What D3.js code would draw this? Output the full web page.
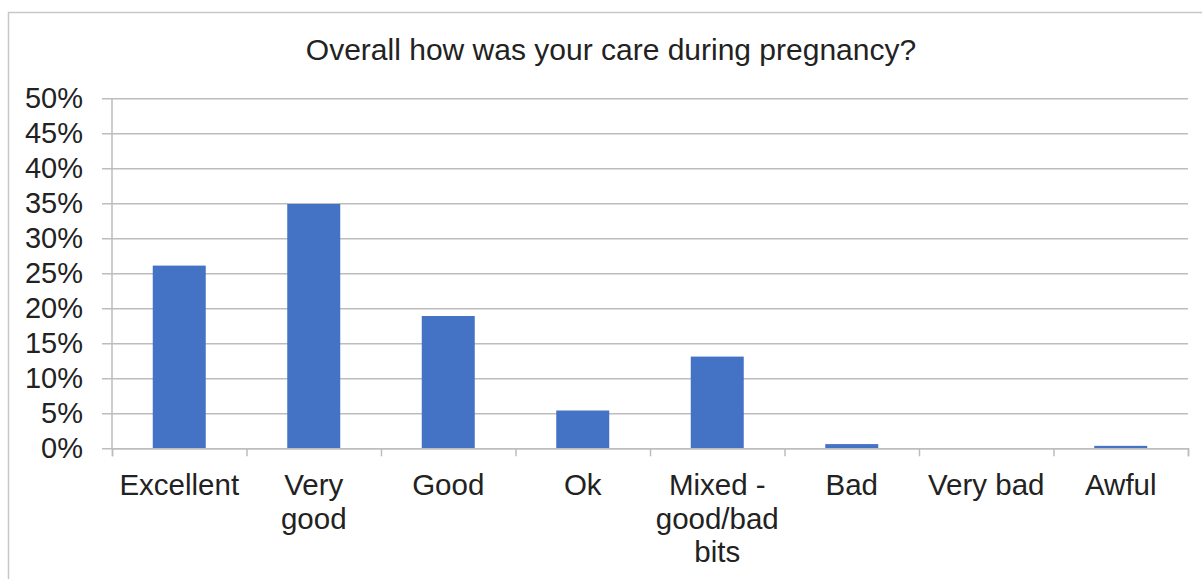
<!DOCTYPE html>
<html>
<head>
<meta charset="utf-8">
<script src="https://cdn.jsdelivr.net/npm/d3@7"></script>
<style>
  body { margin: 0; background: #fff; }
  text { font-family: "Liberation Sans", Arial, sans-serif; fill: #222; }
</style>
</head>
<body>
<div id="chart"></div>
<script>
// chart data
var categories = ["Excellent", "Very good", "Good", "Ok", "Mixed - good/bad bits", "Bad", "Very bad", "Awful"];
var labelLines = [["Excellent"], ["Very", "good"], ["Good"], ["Ok"], ["Mixed -", "good/bad", "bits"], ["Bad"], ["Very bad"], ["Awful"]];
var values = [26.1, 34.9, 18.9, 5.4, 13.1, 0.6, 0, 0.35];
var yTicks = [0, 5, 10, 15, 20, 25, 30, 35, 40, 45, 50];
var title = "Overall how was your care during pregnancy?";

var width = 1202,
    height = 579;
var plotLeft = 112, plotRight = 1188, plotTop = 98.3, plotBottom = 448.3;

var svg = d3.select("#chart")
  .append("svg")
  .attr("width", width)
  .attr("height", height);

// outer frame of the chart area (runs off right and bottom)
svg.append("rect")
  .attr("x", 8.5)
  .attr("y", 12.5)
  .attr("width", 1400)
  .attr("height", 800)
  .attr("fill", "none")
  .attr("stroke", "#c8c8c8")
  .attr("stroke-width", 1.5);

var x = d3.scaleBand()
  .domain(categories)
  .range([plotLeft, plotRight])
  .paddingInner(0.606)
  .paddingOuter(0.303);

var y = d3.scaleLinear()
  .domain([0, 50])
  .range([plotBottom, plotTop]);

// gridlines + y labels, one axis drawn from the right edge
var yAxis = svg.append("g")
  .attr("transform", "translate(" + plotRight + ",0)")
  .call(d3.axisLeft(y)
    .tickValues(yTicks)
    .tickSize(plotRight - 102)
    .tickPadding(19)
    .tickFormat(function(d) { return d + "%"; }));
yAxis.select(".domain").remove();
yAxis.selectAll("line")
  .attr("stroke", "#bdbdbd")
  .attr("stroke-width", 1.5);
yAxis.selectAll("text")
  .style("font-size", "29px")
  .attr("fill", "#222");

// vertical axis line
svg.append("line")
  .attr("x1", plotLeft).attr("x2", plotLeft)
  .attr("y1", plotTop).attr("y2", plotBottom)
  .attr("stroke", "#bdbdbd")
  .attr("stroke-width", 1.5);

// bars
svg.append("g")
  .selectAll("rect")
  .data(values)
  .enter()
  .append("rect")
  .attr("x", function(d, i) { return x(categories[i]); })
  .attr("width", x.bandwidth())
  .attr("y", function(d) { return y(d); })
  .attr("height", function(d) { return y(0) - y(d); })
  .attr("fill", "#4472c4");

// category boundary ticks
var xb = d3.scaleLinear().domain([0, categories.length]).range([plotLeft, plotRight]);
var xAxis = svg.append("g")
  .attr("transform", "translate(0," + plotBottom + ")")
  .call(d3.axisBottom(xb)
    .tickValues(d3.range(categories.length + 1))
    .tickSize(8)
    .tickFormat(""));
xAxis.select(".domain")
  .attr("stroke", "#bdbdbd")
  .attr("stroke-width", 1.5);
xAxis.selectAll("line")
  .attr("stroke", "#bdbdbd")
  .attr("stroke-width", 1.5);

// category labels
var lab = svg.append("g")
  .selectAll("text")
  .data(categories)
  .enter()
  .append("text")
  .attr("text-anchor", "middle")
  .style("font-size", "29.5px");
lab.each(function(d, i) {
  var t = d3.select(this);
  labelLines[i].forEach(function(line, j) {
    t.append("tspan")
      .attr("x", x(d) + x.bandwidth() / 2)
      .attr("y", 495 + j * 33.5)
      .text(line);
  });
});

// title
svg.append("text")
  .attr("x", 611)
  .attr("y", 59.5)
  .attr("text-anchor", "middle")
  .style("font-size", "30px")
  .text(title);
</script>
</body>
</html>
